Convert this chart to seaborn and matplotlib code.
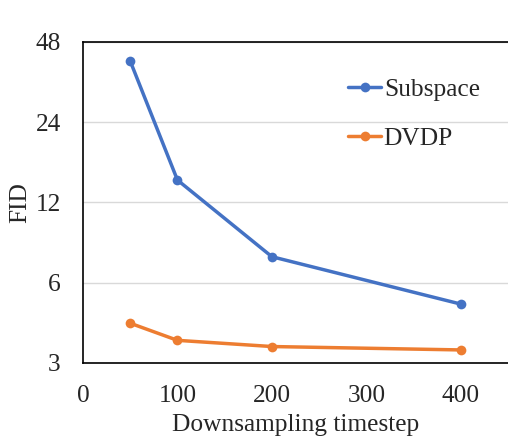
import numpy as np
import matplotlib
matplotlib.use('Agg')
import matplotlib.pyplot as plt
import seaborn as sns
import pandas as pd
from matplotlib.ticker import FixedLocator, FixedFormatter, NullLocator

# values
timesteps = [50, 100, 200, 400]
subspace_fid = [40.7, 14.55, 7.5, 4.98]
dvdp_fid = [4.22, 3.64, 3.45, 3.35]
y_ticks = [3, 6, 12, 24, 48]
x_ticks = [0, 100, 200, 300, 400]

df = pd.DataFrame({
    'Downsampling timestep': timesteps * 2,
    'FID': subspace_fid + dvdp_fid,
    'Method': ['Subspace'] * 4 + ['DVDP'] * 4,
})

sns.set_style('white')
plt.rcParams['font.family'] = ['Liberation Serif', 'DejaVu Serif']
fs = 18.3

fig = plt.figure(figsize=(5.08, 4.37), dpi=100)
ax = fig.add_axes([83 / 508, (437 - 362.7) / 437, (508 - 83) / 508, (362.7 - 42) / 437])

ax.set_yscale('log', base=2)
ax.set_ylim(3, 48)
ax.set_xlim(0, 450)

ax.grid(axis='y', color='#d9d9d9', linewidth=1.0)
ax.set_axisbelow(True)

sns.lineplot(data=df, x='Downsampling timestep', y='FID', hue='Method',
             palette={'Subspace': '#4472c4', 'DVDP': '#ed7d31'},
             marker='o', markersize=7, markeredgewidth=0, linewidth=2.5, ax=ax)

ax.yaxis.set_major_locator(FixedLocator(y_ticks))
ax.yaxis.set_major_formatter(FixedFormatter([str(t) for t in y_ticks]))
ax.yaxis.set_minor_locator(NullLocator())
ax.set_xticks(x_ticks)
ax.tick_params(length=0, labelsize=fs)
ax.tick_params(axis='y', pad=16)
ax.tick_params(axis='x', pad=16)

for s in ['left', 'bottom', 'top']:
    ax.spines[s].set_color('black')
    ax.spines[s].set_linewidth(1.2)
ax.spines['right'].set_visible(False)

ax.set_xlabel('Downsampling timestep', fontsize=fs, labelpad=5)
ax.set_ylabel('FID', fontsize=fs, labelpad=3)

leg = ax.legend(loc='upper left', bbox_to_anchor=(0.6, 0.918), frameon=False,
                fontsize=fs, handlelength=1.3, handletextpad=0.1,
                labelspacing=1.02, borderaxespad=0)

fig.savefig('out.png', dpi=100)
